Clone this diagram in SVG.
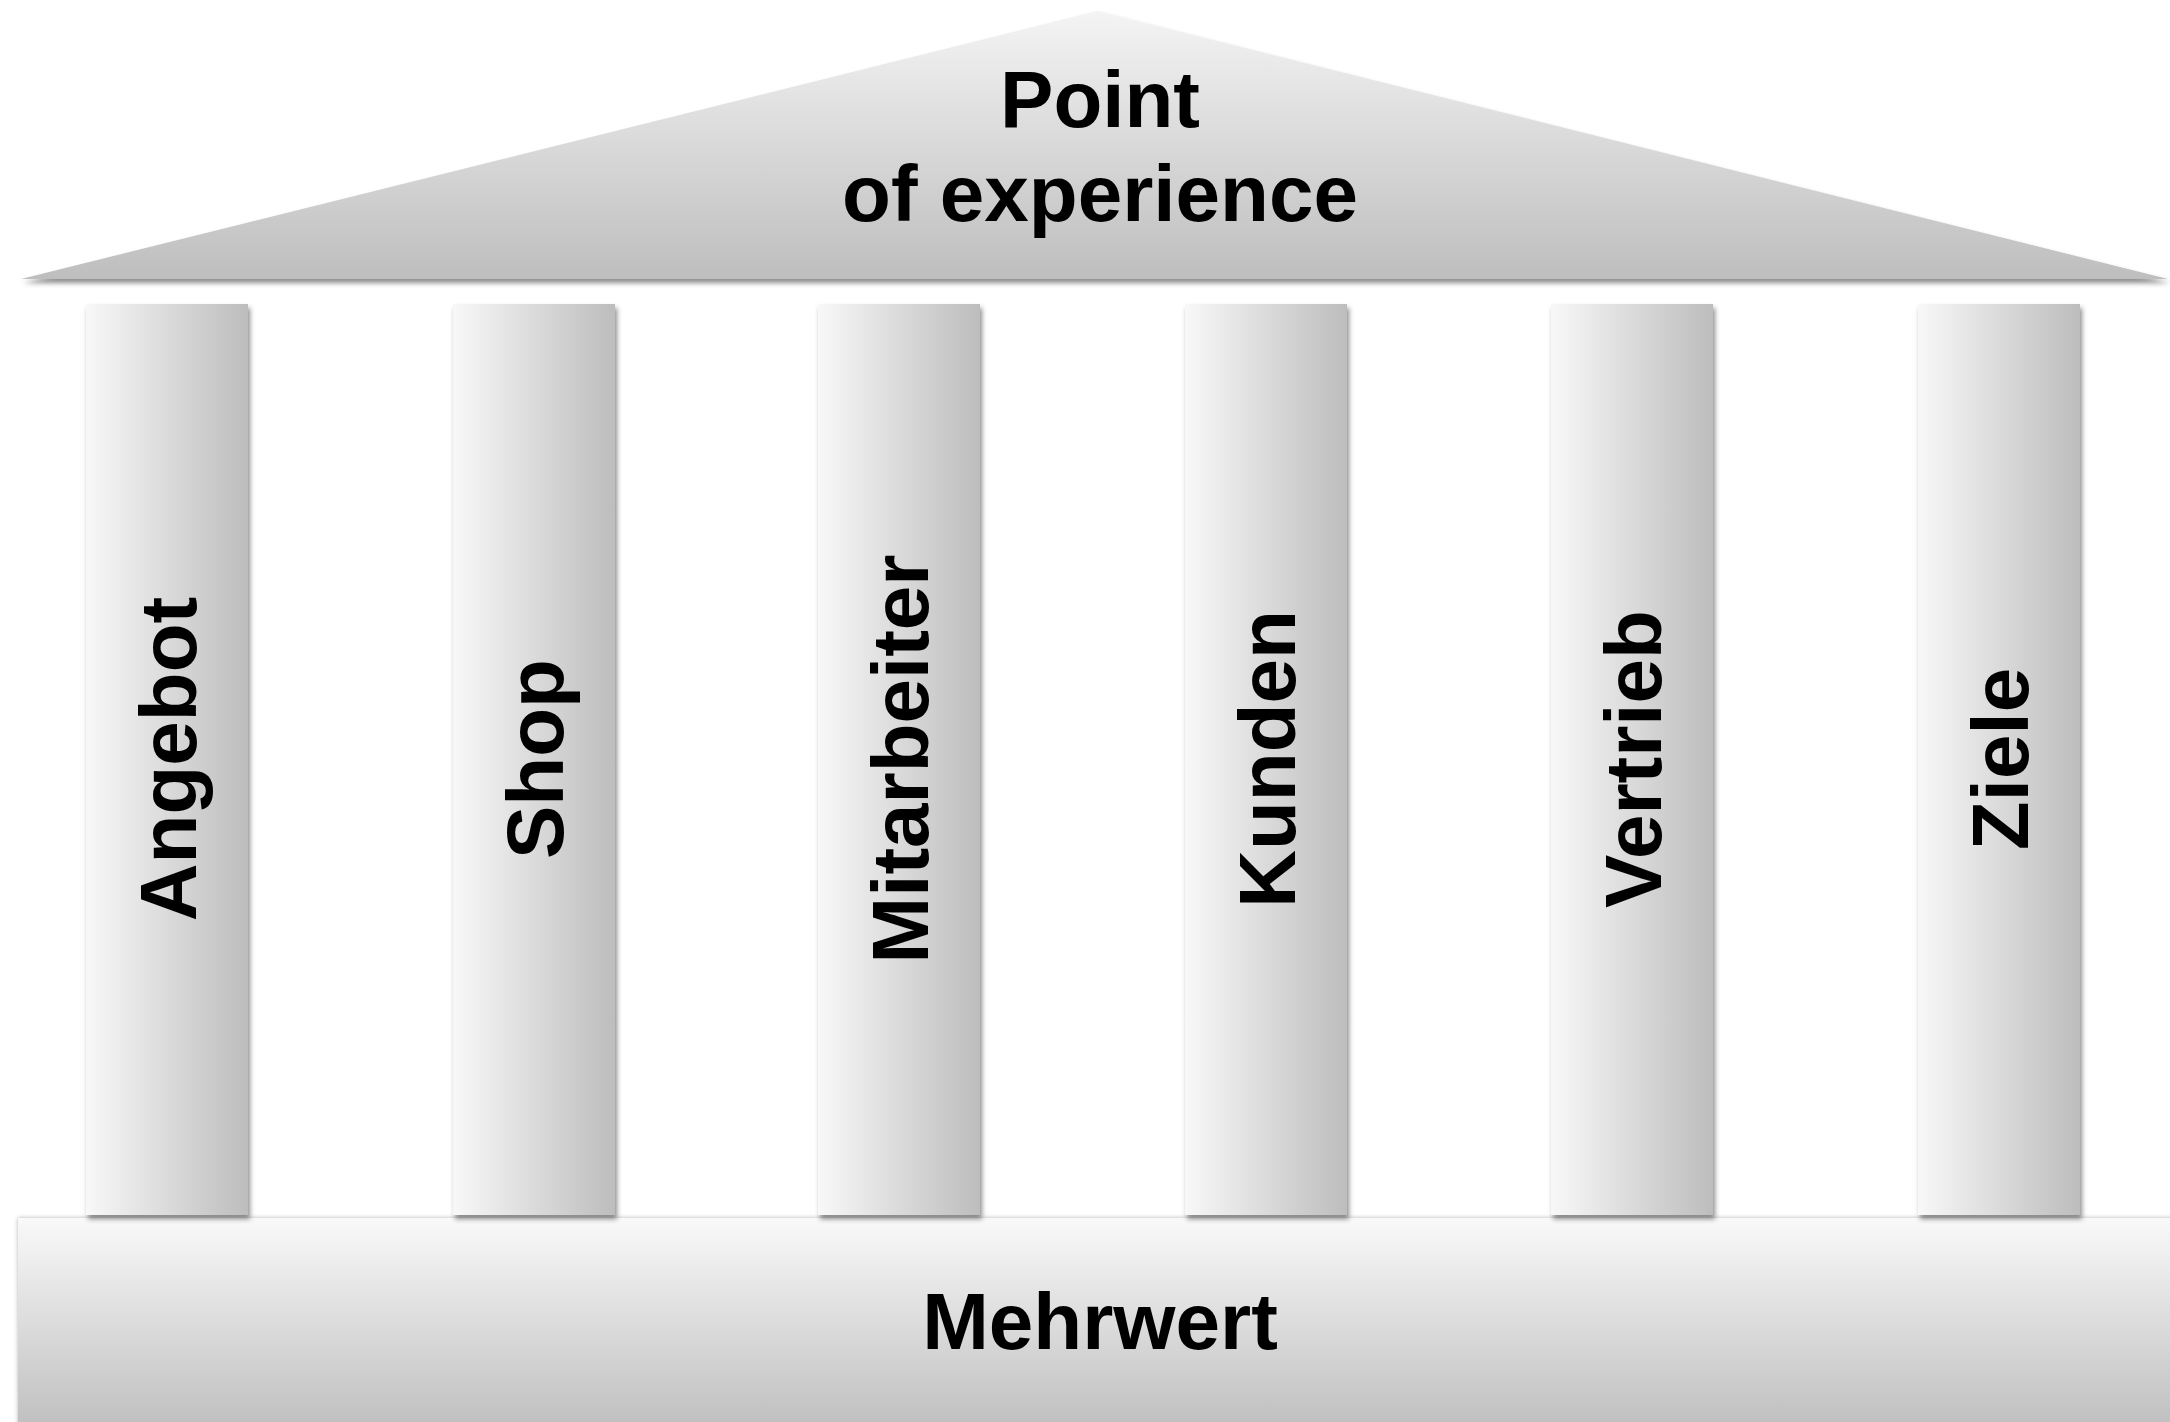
<svg xmlns="http://www.w3.org/2000/svg" width="2170" height="1422" viewBox="0 0 2170 1422">
<defs>
<linearGradient id="gPillar" x1="0" y1="0" x2="1" y2="0">
<stop offset="0" stop-color="#f8f8f8"/>
<stop offset="1" stop-color="#bdbdbd"/>
</linearGradient>
<linearGradient id="gRoof" x1="0" y1="0" x2="0" y2="1">
<stop offset="0" stop-color="#f4f4f4"/>
<stop offset="1" stop-color="#bebebe"/>
</linearGradient>
<linearGradient id="gBase" x1="0" y1="0" x2="0" y2="1">
<stop offset="0" stop-color="#f9f9f9"/>
<stop offset="1" stop-color="#bfbfbf"/>
</linearGradient>
<filter id="shadow" x="-10%" y="-10%" width="120%" height="120%">
<feDropShadow dx="2" dy="4" stdDeviation="2.5" flood-color="#000" flood-opacity="0.45"/>
</filter>
<filter id="shadowBase" x="-5%" y="-5%" width="110%" height="110%">
<feDropShadow dx="0" dy="0" stdDeviation="2" flood-color="#000" flood-opacity="0.3"/>
</filter>
</defs>
<style>
.pillar{fill:url(#gPillar);filter:url(#shadow);}
.lbl{font-family:"Liberation Sans",Arial,Helvetica,sans-serif;font-weight:bold;font-size:80px;fill:#000;text-anchor:middle;}
</style>
<rect width="2170" height="1422" fill="#ffffff"/>

<g id="base">
<rect x="18" y="1218" width="2160" height="210" fill="url(#gBase)" filter="url(#shadowBase)"/>
<text class="lbl" x="1100" y="1349">Mehrwert</text>
</g>

<g id="roof">
<polygon points="21,279 1097,11 2168,279" fill="url(#gRoof)" filter="url(#shadow)"/>
<text class="lbl" x="1100" y="127">Point</text>
<text class="lbl" x="1100" y="221">of experience</text>
</g>

<g id="pillar-angebot">
<rect class="pillar" x="86" y="304" width="162" height="911"/>
<text class="lbl" transform="translate(196,759) rotate(-90)">Angebot</text>
</g>
<g id="pillar-shop">
<rect class="pillar" x="453" y="304" width="162" height="911"/>
<text class="lbl" transform="translate(563,759) rotate(-90)">Shop</text>
</g>
<g id="pillar-mitarbeiter">
<rect class="pillar" x="818" y="304" width="162" height="911"/>
<text class="lbl" transform="translate(928,759) rotate(-90)">Mitarbeiter</text>
</g>
<g id="pillar-kunden">
<rect class="pillar" x="1185" y="304" width="162" height="911"/>
<text class="lbl" transform="translate(1295,759) rotate(-90)">Kunden</text>
</g>
<g id="pillar-vertrieb">
<rect class="pillar" x="1551" y="304" width="162" height="911"/>
<text class="lbl" transform="translate(1661,759) rotate(-90)">Vertrieb</text>
</g>
<g id="pillar-ziele">
<rect class="pillar" x="1918" y="304" width="162" height="911"/>
<text class="lbl" transform="translate(2028,759) rotate(-90)">Ziele</text>
</g>

<g id="connectors"></g>
</svg>
